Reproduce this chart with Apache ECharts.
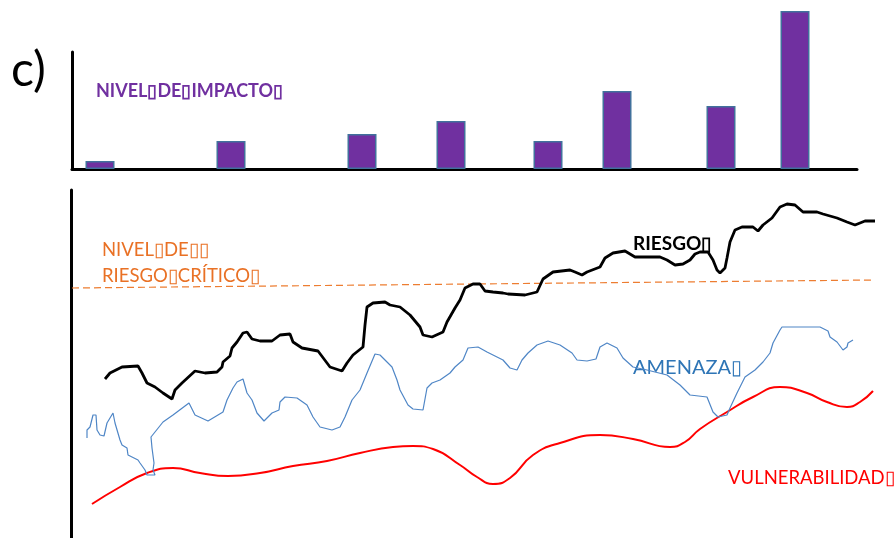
<!DOCTYPE html>
<html>
<head>
<meta charset="utf-8">
<script src="https://cdn.jsdelivr.net/npm/echarts@6/dist/echarts.min.js"></script>
<style>
  html, body { margin: 0; padding: 0; background: #fff; }
  #chart { width: 896px; height: 538px; }
</style>
</head>
<body>
<div id="chart"></div>
<script>
// nivel de impacto (barras): posición en el eje y altura
const impactX = [28, 159, 290, 379, 476, 545, 649, 723];
const impactLevel = [8, 28, 35, 48, 28, 78, 63, 158];

// curvas: [tiempo, nivel]
const riesgo = [
  [34,159],[39,165],[51,171],[67,172],[71,165],[76,155],[84,151],[92,145],[101,139],[104,148],
  [111,155],[124,167],[134,165],[146,166],[151,171],[152,176],[159,182],[161,190],[166,196],[172,205],
  [176,206],[181,199],[189,197],[201,197],[209,203],[219,204],[222,196],[231,190],[247,187],[256,175],
  [259,171],[271,167],[276,175],[282,183],[292,191],[294,213],[296,231],[302,235],[314,236],[319,233],
  [329,231],[339,223],[349,211],[352,203],[361,201],[372,206],[376,216],[384,230],[389,238],[394,250],
  [402,254],[409,254],[414,247],[422,246],[432,245],[437,244],[454,243],[466,246],[472,259],[482,266],
  [499,268],[504,266],[511,263],[516,266],[529,271],[534,280],[542,285],[554,287],[564,281],[589,281],
  [596,278],[604,273],[612,274],[619,278],[624,284],[629,286],[637,286],[642,278],[646,268],[649,265],
  [654,270],[656,280],[659,296],[664,308],[671,311],[682,311],[687,307],[692,313],[701,320],[709,331],
  [716,334],[724,333],[732,326],[746,326],[752,324],[766,320],[776,316],[784,313],[794,317],[804,317]
];
const amenaza = [
  [16,100],[16,108],[19,111],[22,123],[25,123],[26,108],[29,103],[33,102],[36,115],[42,125],
  [44,115],[49,98],[51,93],[56,90],[57,83],[67,78],[69,75],[74,68],[76,63],[84,63],
  [82,68],[83,75],[81,90],[80,101],[84,106],[92,116],[102,123],[118,135],[124,123],[137,117],
  [152,126],[156,138],[162,150],[166,156],[172,159],[176,145],[181,138],[186,125],[193,117],[201,125],
  [208,128],[209,136],[214,141],[226,140],[236,133],[242,121],[249,111],[261,108],[269,111],[274,121],
  [281,138],[289,148],[296,165],[304,184],[309,183],[321,171],[326,158],[329,148],[337,133],[342,129],
  [352,128],[356,150],[361,155],[369,158],[379,165],[384,171],[392,178],[397,190],[407,191],[416,186],
  [432,178],[439,170],[446,168],[451,178],[457,185],[466,193],[477,197],[489,193],[501,185],[506,178],
  [516,177],[525,179],[529,191],[536,195],[546,190],[552,180],[562,171],[576,168],[596,163],[609,153],
  [619,143],[636,141],[642,126],[647,121],[656,123],[659,130],[666,145],[674,161],[684,168],[692,176],
  [699,185],[702,195],[709,208],[711,211],[732,211],[749,211],[757,207],[759,201],[766,196],[772,188],
  [776,191],[777,195],[782,198]
];
const vulnerabilidad = [
  [21,34],[49,51],[76,65],[102,70],[129,65],[157,62],[189,65],[222,72],[256,77],[289,85],
  [322,91],[342,92],[362,89],[389,73],[406,61],[422,54],[439,60],[462,83],[489,95],[529,103],
  [562,99],[599,91],[614,96],[629,109],[656,126],[682,141],[709,151],[736,145],[756,136],[776,131],
  [789,136],[802,147]
];
const nivelCritico = [[1, 250], [804, 258]];

const box = "\u25AF";
const labels = {
  panel: "c)",
  impacto: "NIVEL" + box + "DE" + box + "IMPACTO" + box,
  critico1: "NIVEL" + box + "DE" + box + box,
  critico2: "RIESGO" + box + "CRÍTICO" + box,
  riesgo: "RIESGO" + box,
  amenaza: "AMENAZA" + box,
  vulnerabilidad: "VULNERABILIDAD" + box
};

const font = "Lato, 'Noto Sans', sans-serif";
const chart = echarts.init(document.getElementById("chart"));
const hiddenAxis = { axisTick: { show: false }, axisLabel: { show: false }, splitLine: { show: false } };
const axisLine = { show: true, lineStyle: { color: "#000", width: 3 } };

chart.setOption({
  animation: false,
  grid: [
    { left: 72, top: 52, width: 785, height: 117 },
    { left: 71, top: 190, width: 825, height: 348 }
  ],
  xAxis: [
    { type: "value", gridIndex: 0, min: 0, max: 785, axisLine, ...hiddenAxis },
    { type: "value", gridIndex: 1, min: 0, max: 825, axisLine: { show: false }, ...hiddenAxis }
  ],
  yAxis: [
    { type: "value", gridIndex: 0, min: 0, max: 117, axisLine, ...hiddenAxis },
    { type: "value", gridIndex: 1, min: 0, max: 348, axisLine, ...hiddenAxis }
  ],
  series: [
    {
      type: "bar", xAxisIndex: 0, yAxisIndex: 0, barWidth: 29, clip: false,
      itemStyle: { color: "#7030A0", borderColor: "#41719C", borderWidth: 1.5 },
      data: impactX.map((x, i) => [x, impactLevel[i]])
    },
    {
      type: "line", xAxisIndex: 1, yAxisIndex: 1, showSymbol: false,
      lineStyle: { color: "#ED7D31", width: 1.2, type: [7, 4] }, data: nivelCritico
    },
    {
      type: "line", xAxisIndex: 1, yAxisIndex: 1, showSymbol: false, smooth: true,
      lineStyle: { color: "#FF0000", width: 2 }, data: vulnerabilidad
    },
    {
      type: "line", xAxisIndex: 1, yAxisIndex: 1, showSymbol: false,
      lineStyle: { color: "#4F86C6", width: 1.2 }, data: amenaza
    },
    {
      type: "line", xAxisIndex: 1, yAxisIndex: 1, showSymbol: false,
      lineStyle: { color: "#000", width: 2.8 }, data: riesgo
    }
  ],
  graphic: [
    { type: "text", left: 11, top: 47, style: { text: labels.panel, fontSize: 48, fontFamily: font, fill: "#000" } },
    { type: "text", left: 96, top: 82, style: { text: labels.impacto, fontSize: 18, fontWeight: "bold", fontFamily: font, fill: "#7030A0" } },
    { type: "text", left: 102, top: 241, style: { text: labels.critico1, fontSize: 18.5, fontFamily: font, fill: "#E97125" } },
    { type: "text", left: 102, top: 267, style: { text: labels.critico2, fontSize: 18.5, fontFamily: font, fill: "#E97125" } },
    { type: "text", left: 633, top: 234, style: { text: labels.riesgo, fontSize: 19, fontWeight: "bold", fontFamily: font, fill: "#000" } },
    { type: "text", left: 633, top: 358, style: { text: labels.amenaza, fontSize: 20, fontFamily: font, fill: "#2E75B6" } },
    { type: "text", left: 728, top: 469, style: { text: labels.vulnerabilidad, fontSize: 18.5, fontFamily: font, fill: "#FF0000" } }
  ]
});
</script>
</body>
</html>
